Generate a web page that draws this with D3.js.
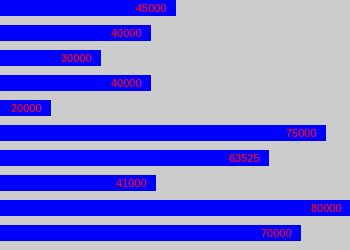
<!DOCTYPE html>
<html>
<head>
<meta charset="utf-8">
<script src="https://cdn.jsdelivr.net/npm/d3@7"></script>
<style>
html,body{margin:0;padding:0;background:#cccccc;}
svg{display:block;}
</style>
</head>
<body>
<svg id="chart" width="350" height="250"></svg>
<script>
const categories = ["r1","r2","r3","r4","r5","r6","r7","r8","r9","r10"];
const values = [45000, 40000, 30000, 40000, 20000, 75000, 63525, 41000, 80000, 70000];
const labels = ["45000","40000","30000","40000","20000","75000","63525","41000","80000","70000"];

const W = 350, H = 250;
const svg = d3.select("#chart");
svg.append("rect").attr("width", W).attr("height", H).attr("fill", "#cccccc");

const x = d3.scaleLinear().domain([9800, 80000]).range([0, 351]);
const y = d3.scaleBand().domain(categories).range([0, 241]).paddingInner(0.36).paddingOuter(0);

const g = svg.append("g");
g.selectAll("rect.bar").data(values).enter().append("rect")
  .attr("class", "bar")
  .attr("x", 0)
  .attr("y", (d, i) => y(categories[i]))
  .attr("width", d => Math.round(x(d)))
  .attr("height", y.bandwidth())
  .attr("fill", "#0000ff");

g.selectAll("text.lbl").data(values).enter().append("text")
  .attr("class", "lbl")
  .attr("x", d => Math.round(x(d)) - 10)
  .attr("y", (d, i) => y(categories[i]) + 12)
  .attr("text-anchor", "end")
  .attr("fill", "#ff0000")
  .style("font-family", "'Liberation Sans', Arial, sans-serif")
  .style("font-size", "11px")
  .text((d, i) => labels[i]);
</script>
</body>
</html>
